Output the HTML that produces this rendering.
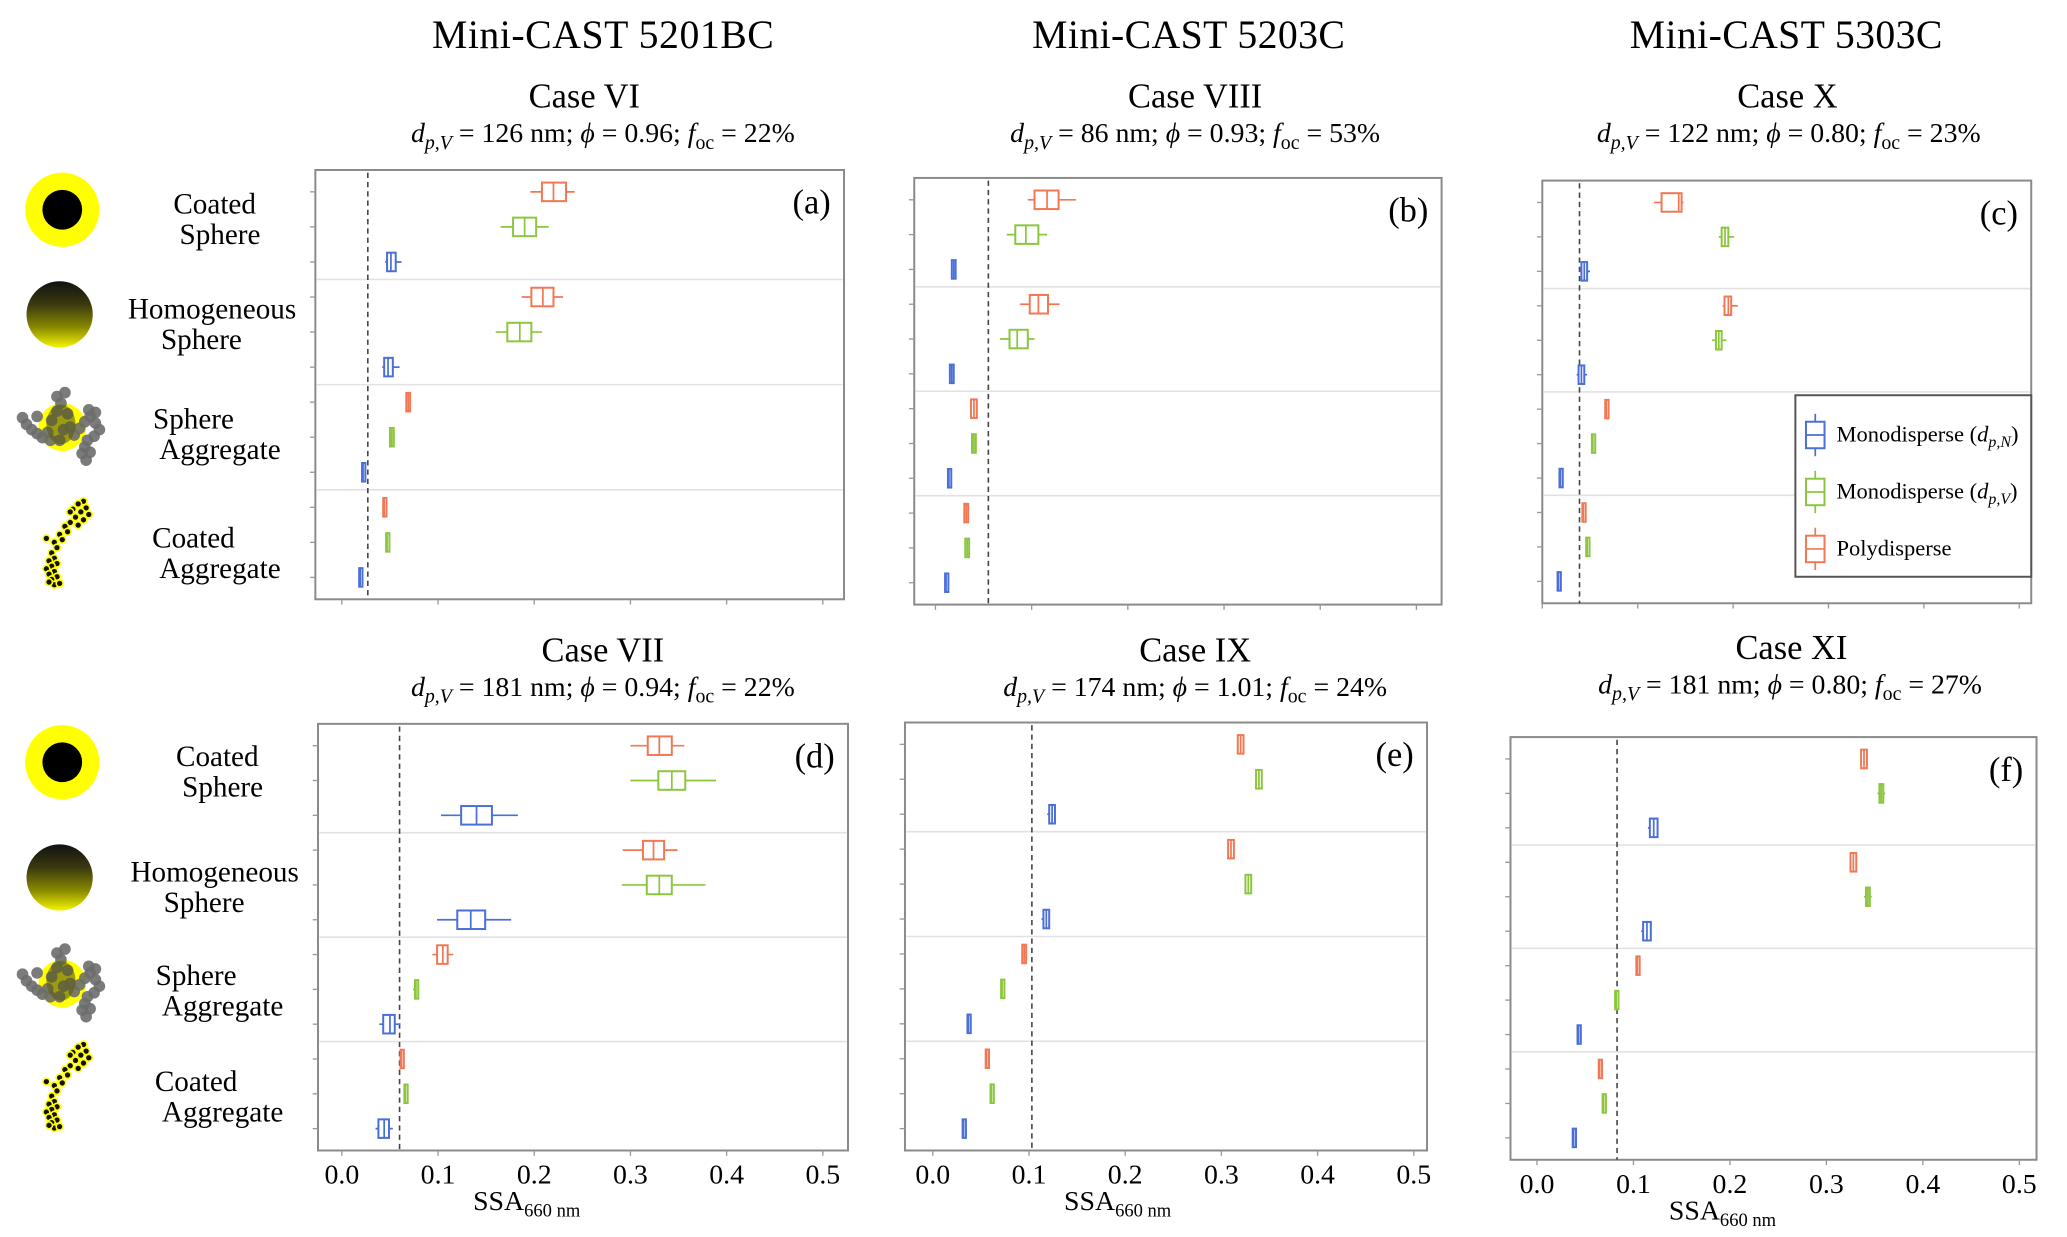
<!DOCTYPE html>
<html><head><meta charset="utf-8"><style>
html,body{margin:0;padding:0;background:#fff;}
svg{display:block;font-family:"Liberation Serif",serif;}
</style></head><body>
<svg id="fig" width="2067" height="1237" viewBox="0 0 1560 933" xmlns="http://www.w3.org/2000/svg">
<defs>
<linearGradient id="hg" x1="0" y1="0" x2="0" y2="1">
<stop offset="0" stop-color="#111"/><stop offset="0.35" stop-color="#3a3a10"/><stop offset="0.7" stop-color="#8a8a00"/><stop offset="1" stop-color="#f4f400"/>
</linearGradient>
</defs>
<g id="titles">
<text x="455" y="36" font-size="30" text-anchor="middle" textLength="258">Mini-CAST 5201BC</text>
<text x="897" y="36" font-size="30" text-anchor="middle" textLength="236">Mini-CAST 5203C</text>
<text x="1348" y="36" font-size="30" text-anchor="middle" textLength="236">Mini-CAST 5303C</text>
</g>
<g id="icons"></g>
<g id="panels"></g>
</svg>
<script>
// ---------- data (order: CS poly, CS dpV, CS dpN, HS poly, HS dpV, HS dpN, SA poly, SA dpV, SA dpN, CA poly, CA dpV, CA dpN)
const categories = ["Coated Sphere","Homogeneous Sphere","Sphere Aggregate","Coated Aggregate"];
const seriesNames = ["Polydisperse","Monodisperse (dpV)","Monodisperse (dpN)"];
const tickLabels = ["0.0","0.1","0.2","0.3","0.4","0.5"];
const tickValues = [0,0.1,0.2,0.3,0.4,0.5];

const aMed = [0.220,0.190,0.051,0.209,0.185,0.048,0.069,0.052,0.022,0.044,0.047,0.019];
const aQ1  = [0.208,0.178,0.047,0.197,0.172,0.044,0.067,0.050,0.021,0.043,0.046,0.018];
const aQ3  = [0.233,0.202,0.056,0.220,0.197,0.053,0.071,0.054,0.023,0.045,0.048,0.020];
const aLo  = [0.196,0.165,0.045,0.187,0.160,0.042,0.066,0.049,0.021,0.043,0.046,0.018];
const aHi  = [0.242,0.215,0.062,0.230,0.208,0.060,0.072,0.055,0.023,0.045,0.048,0.020];
const aRef = 0.027;

const bMed = [0.116,0.094,0.019,0.107,0.085,0.017,0.040,0.040,0.014,0.032,0.033,0.011];
const bQ1  = [0.103,0.083,0.017,0.098,0.077,0.015,0.037,0.038,0.013,0.030,0.031,0.010];
const bQ3  = [0.128,0.107,0.021,0.117,0.096,0.019,0.043,0.042,0.015,0.034,0.035,0.012];
const bLo  = [0.096,0.074,0.017,0.088,0.067,0.015,0.037,0.038,0.013,0.030,0.031,0.010];
const bHi  = [0.146,0.116,0.021,0.129,0.103,0.019,0.043,0.042,0.015,0.034,0.035,0.012];
const bRef = 0.055;

const cMed = [0.143,0.1915,0.044,0.195,0.185,0.041,0.067,0.053,0.019,0.043,0.047,0.017];
const cQ1  = [0.125,0.188,0.041,0.191,0.182,0.038,0.066,0.052,0.018,0.042,0.046,0.016];
const cQ3  = [0.146,0.195,0.047,0.198,0.188,0.044,0.068,0.054,0.020,0.044,0.048,0.018];
const cLo  = [0.117,0.185,0.039,0.189,0.178,0.036,0.066,0.052,0.018,0.042,0.046,0.016];
const cHi  = [0.148,0.201,0.050,0.205,0.193,0.047,0.068,0.054,0.020,0.044,0.048,0.018];
const cRef = 0.039;

const dMed = [0.330,0.343,0.140,0.324,0.330,0.134,0.105,0.077,0.050,0.062,0.066,0.044];
const dQ1  = [0.318,0.329,0.124,0.313,0.317,0.120,0.099,0.076,0.043,0.061,0.065,0.038];
const dQ3  = [0.343,0.357,0.156,0.335,0.343,0.149,0.110,0.078,0.055,0.063,0.067,0.049];
const dLo  = [0.300,0.300,0.103,0.292,0.291,0.099,0.094,0.074,0.039,0.060,0.064,0.035];
const dHi  = [0.356,0.389,0.183,0.349,0.378,0.176,0.116,0.080,0.061,0.064,0.068,0.053];
const dRef = 0.060;

const eMed = [0.320,0.339,0.124,0.310,0.328,0.118,0.095,0.072,0.037,0.056,0.061,0.032];
const eQ1  = [0.317,0.336,0.121,0.307,0.325,0.115,0.093,0.071,0.036,0.055,0.060,0.031];
const eQ3  = [0.323,0.342,0.127,0.313,0.331,0.121,0.097,0.073,0.038,0.057,0.062,0.033];
const eLo  = [0.317,0.336,0.119,0.307,0.325,0.113,0.092,0.071,0.036,0.055,0.060,0.031];
const eHi  = [0.323,0.342,0.127,0.313,0.331,0.121,0.097,0.073,0.038,0.057,0.062,0.033];
const eRef = 0.103;

const fMed = [0.339,0.357,0.121,0.328,0.343,0.114,0.104,0.082,0.043,0.065,0.069,0.038];
const fQ1  = [0.336,0.355,0.117,0.325,0.341,0.110,0.103,0.081,0.042,0.064,0.068,0.037];
const fQ3  = [0.342,0.359,0.125,0.331,0.345,0.118,0.105,0.083,0.044,0.066,0.070,0.039];
const fLo  = [0.336,0.353,0.115,0.325,0.339,0.108,0.103,0.080,0.042,0.064,0.068,0.037];
const fHi  = [0.342,0.361,0.125,0.331,0.347,0.118,0.105,0.084,0.044,0.066,0.070,0.039];
const fRef = 0.083;

// ---------- drawing
const NS = "http://www.w3.org/2000/svg";
const colors = ["#f07855","#8cc63e","#4a6fd8"];
function mk(tag, attrs, parent){
  const e = document.createElementNS(NS, tag);
  for (const k in attrs) e.setAttribute(k, attrs[k]);
  parent.appendChild(e);
  return e;
}
const root = document.getElementById('panels');
const panels = [
  {id:'a', x:238,y:128,w:399,h:324,x0:258,unit:726,med:aMed,q1:aQ1,q3:aQ3,lo:aLo,hi:aHi,ref:aRef,labels:false,
   title:'Case VI',tx:441,sx:455,ty:81,sub:['126','0.96','22'],legend:false},
  {id:'b', x:690,y:134,w:398,h:322,x0:706,unit:726,med:bMed,q1:bQ1,q3:bQ3,lo:bLo,hi:bHi,ref:bRef,labels:false,
   title:'Case VIII',tx:902,sx:902,ty:81,sub:['86','0.93','53'],legend:false},
  {id:'c', x:1164,y:136,w:369,h:319,x0:1164,unit:720,med:cMed,q1:cQ1,q3:cQ3,lo:cLo,hi:cHi,ref:cRef,labels:false,
   title:'Case X',tx:1349,sx:1350,ty:81,sub:['122','0.80','23'],legend:true},
  {id:'d', x:240,y:546,w:400,h:322,x0:258,unit:726,med:dMed,q1:dQ1,q3:dQ3,lo:dLo,hi:dHi,ref:dRef,labels:true,
   title:'Case VII',tx:455,sx:455,ty:499,sub:['181','0.94','22'],legend:false},
  {id:'e', x:683,y:545,w:394,h:323,x0:704,unit:726,med:eMed,q1:eQ1,q3:eQ3,lo:eLo,hi:eHi,ref:eRef,labels:true,
   title:'Case IX',tx:902,sx:902,ty:499,sub:['174','1.01','24'],legend:false},
  {id:'f', x:1140,y:556,w:397,h:319,x0:1160,unit:728,med:fMed,q1:fQ1,q3:fQ3,lo:fLo,hi:fHi,ref:fRef,labels:true,
   title:'Case XI',tx:1352,sx:1351,ty:497,sub:['181','0.80','27'],legend:false},
];

panels.forEach(p=>{
  const g = mk('g',{},root);
  
  
  const X = v => p.x0 + v*p.unit;
  const pad = 16.5;
  const step = (p.h - 2*pad)/11;
  const Y = i => p.y + pad + i*step;

  const t = mk('text',{x:p.tx,y:p.ty,'font-size':26,'text-anchor':'middle'},g);
  t.textContent = p.title;
  
  
  const s = mk('text',{x:p.sx,y:p.ty+26,'font-size':21,'text-anchor':'middle'},g);
  
  
  s.innerHTML = '<tspan font-style="italic">d</tspan><tspan font-style="italic" font-size="15" dy="5">p,V</tspan><tspan dy="-5"> = '+p.sub[0]+' nm; </tspan><tspan font-style="italic">ϕ</tspan><tspan> = '+p.sub[1]+'; </tspan><tspan font-style="italic">f</tspan><tspan font-size="15" dy="5">oc</tspan><tspan dy="-5"> = '+p.sub[2]+'%</tspan>';

  const fr = mk('rect',{x:p.x,y:p.y,width:p.w,height:p.h,fill:'#fff',stroke:'#8a8a8a','stroke-width':1.5},g);
  
  

  for (let k=1;k<4;k++){
    const yy = (Y(3*k-1)+Y(3*k))/2;
    const l = mk('line',{x1:p.x+1,x2:p.x+p.w-1,y1:yy,y2:yy,stroke:'#e2e2e2','stroke-width':1.2},g);
    
    
  }
  for (let i=0;i<12;i++){
    const tk = mk('line',{x1:p.x-4,x2:p.x,y1:Y(i),y2:Y(i),stroke:'#999','stroke-width':1},g);
    
    
  }
  tickValues.forEach((v,k)=>{
    const xx = X(v);
    const tk = mk('line',{x1:xx,x2:xx,y1:p.y+p.h,y2:p.y+p.h+4,stroke:'#999','stroke-width':1},g);
    
    
    if (p.labels){
      const tl = mk('text',{x:xx,y:p.y+p.h+25,'font-size':21,'text-anchor':'middle'},g);
      tl.textContent = tickLabels[k];
      
      
    }
  });
  if (p.labels){
    const xl = mk('text',{x:X(0.25)-42,y:p.y+p.h+45,'font-size':21,'text-anchor':'middle'},g);
    xl.innerHTML = 'SSA<tspan font-size="14" dy="5">660 nm</tspan>';
    
    
  }
  const rl = mk('line',{x1:X(p.ref),x2:X(p.ref),y1:p.y+2,y2:p.y+p.h,stroke:'#444','stroke-width':1.2,'stroke-dasharray':'4,3'},g);
  
  

  const pl = mk('text',{x:p.x+p.w-10,y:p.y+33,'font-size':26,'text-anchor':'end'},g);
  pl.textContent = '('+p.id+')';
  
  

  for (let i=0;i<12;i++){
    const c = colors[i%3];
    const y = Y(i);
    const bg = mk('g',{},g);
    
    
    mk('line',{x1:X(p.lo[i]),x2:X(p.hi[i]),y1:y,y2:y,stroke:c,'stroke-width':1.3},bg);
    const x1 = X(p.q1[i]), x2 = X(p.q3[i]);
    const w = Math.max(x2-x1,2.5);
    mk('rect',{x:x1,y:y-7,width:w,height:14,fill:'#fff',stroke:c,'stroke-width':1.5},bg);
    mk('line',{x1:X(p.med[i]),x2:X(p.med[i]),y1:y-7,y2:y+7,stroke:c,'stroke-width':1.3},bg);
  }

  if (p.legend){
    const lg = mk('g',{},g);
    
    
    mk('rect',{x:1355,y:298,width:178,height:137,fill:'#fff',stroke:'#555','stroke-width':1.5},lg);
    const items = [[colors[2],'Monodisperse (','p,N'],[colors[1],'Monodisperse (','p,V'],[colors[0],'Polydisperse','']];
    items.forEach((it,k)=>{
      const cy = 328 + k*43;
      const e = mk('g',{},lg);
      
      
      mk('line',{x1:1370,x2:1370,y1:cy-16,y2:cy+16,stroke:it[0],'stroke-width':1.3},e);
      mk('rect',{x:1363,y:cy-10,width:14,height:20,fill:'#fff',stroke:it[0],'stroke-width':1.5},e);
      mk('line',{x1:1363,x2:1377,y1:cy,y2:cy,stroke:it[0],'stroke-width':1.3},e);
      const tx = mk('text',{x:1386,y:cy+5,'font-size':17},e);
      if (it[2]) tx.innerHTML = it[1]+'<tspan font-style="italic">d</tspan><tspan font-style="italic" font-size="12" dy="4">'+it[2]+'</tspan><tspan dy="-4">)</tspan>';
      else tx.textContent = it[1];
    });
  }
});

// ---------- left icons and category labels
const ic = document.getElementById('icons');
function icons(yCS, yHS, ySA, yCA, lx){
  let g = mk('g',{},ic);
  
  
  mk('circle',{cx:47,cy:yCS,r:28,fill:'#ffff00'},g);
  mk('circle',{cx:47,cy:yCS,r:15,fill:'#000'},g);
  g = mk('g',{},ic);
  
  
  mk('circle',{cx:45,cy:yHS,r:25,fill:'url(#hg)'},g);
  g = mk('g',{},ic);
  
  
  const sa = [[-30,-5],[-27,0],[-23,4],[-19,7],[-15,10],[-11,6],[-8,-3],[-4,-10],[-1,-16],[-4,-21],[2,-24],[4,-8],[6,2],[9,8],[13,3],[17,-2],[21,-6],[25,-1],[28,4],[24,9],[19,12],[17,17],[15,22],[18,27],[21,21],[20,-11],[-19,-6],[-2,12],[1,4],[-9,12],[25,-9]];
  mk('circle',{cx:47,cy:ySA+2,r:18,fill:'#ffff00'},g);
  sa.forEach(d=>mk('circle',{cx:47+d[0],cy:ySA+d[1],r:4.4,fill:'#6d6d6d','fill-opacity':0.9},g));
  mk('ellipse',{cx:46,cy:ySA,rx:11,ry:15,fill:'#5a5a1a','fill-opacity':0.6},g);
  g = mk('g',{},ic);
  
  
  const ca = [[18,-32],[14,-30],[20,-27],[10,-26],[16,-24],[22,-22],[12,-20],[18,-18],[8,-16],[14,-14],[4,-13],[6,-9],[0,-7],[2,-3],[-4,-1],[-2,3],[-6,7],[-4,11],[-8,13],[-2,15],[-6,17],[-10,19],[-4,21],[-8,23],[-2,25],[-6,27],[-4,31],[-8,29],[0,30],[8,-24],[-10,-4]];
  ca.forEach(d=>mk('circle',{cx:45+d[0],cy:yCA+d[1],r:2.6,fill:'#111',stroke:'#ffff00','stroke-width':1.2},g));
  const L = [[yCS-3,'Coated',lx],[yCS+20,'Sphere',lx+4],[yHS-3,'Homogeneous',lx-2],[yHS+20,'Sphere',lx-10],
             [ySA-3,'Sphere',lx-16],[ySA+20,'Aggregate',lx+4],[yCA-3,'Coated',lx-16],[yCA+20,'Aggregate',lx+4]];
  L.forEach(l=>{
    const t = mk('text',{x:l[2],y:l[0]+6,'font-size':22,'text-anchor':'middle'},ic);
    t.textContent = l[1];
    
    
  });
}
icons(158, 237, 320, 410, 162);
icons(575, 662, 740, 820, 164);
</script>
</body></html>
